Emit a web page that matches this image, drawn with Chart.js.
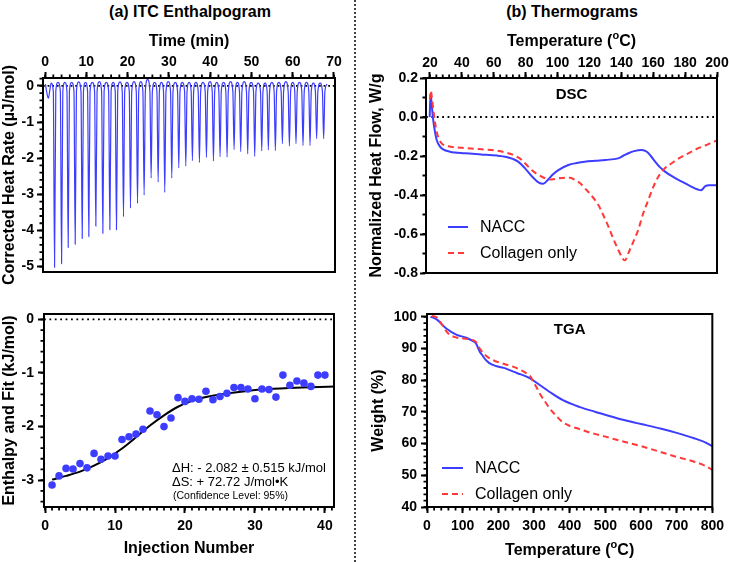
<!DOCTYPE html>
<html><head><meta charset="utf-8">
<script src="https://cdn.jsdelivr.net/npm/chart.js@4/dist/chart.umd.min.js"></script>
<style>
html,body{margin:0;padding:0;background:#fff;}
#wrap{position:relative;width:729px;height:562px;overflow:hidden;font-family:"Liberation Sans",Arial,sans-serif;background:#fff;}
canvas{position:absolute;left:0;top:0;}
.ttl{position:absolute;font-weight:bold;font-size:16px;white-space:nowrap;transform:translate(-50%,-50%);color:#000;}
#divider{position:absolute;left:354px;top:0;height:562px;border-left:2px dotted #444;}
</style></head>
<body><div id="wrap">
<div class="ttl" style="left:190px;top:12px">(a) ITC Enthalpogram</div>
<div class="ttl" style="left:572px;top:12px">(b) Thermograms</div>
<div id="divider"></div>
<canvas id="c1" width="729" height="562"></canvas>
<canvas id="c2" width="729" height="562"></canvas>
<canvas id="c3" width="729" height="562"></canvas>
<canvas id="c4" width="729" height="562"></canvas>
</div>
<script>
// ---------- (a) ITC raw heat-rate trace ----------
const itcInitTime = [0.1, 0.45, 0.8, 1.15];
const itcInitRate = [0.05, -0.2, -0.34, -0.12];
const injTime = [2.3, 4.0, 5.6, 7.3, 9.0, 10.6, 12.3, 14.0, 15.7, 17.3,
                 19.0, 20.7, 22.4, 24.0, 25.7, 27.4, 29.0, 30.7, 32.4, 34.1,
                 35.7, 37.4, 39.1, 40.8, 42.4, 44.1, 45.8, 47.4, 49.1, 50.8,
                 52.5, 54.1, 55.8, 57.5, 59.2, 60.8, 62.5, 64.2, 65.8, 67.5];
const peakRate = [-5.02, -4.92, -4.47, -4.38, -4.22, -4.17, -3.88, -4.08, -3.98, -3.98,
                  -3.62, -3.38, -3.25, -3.02, -2.55, -2.66, -2.95, -2.55, -2.27, -2.22,
                  -2.07, -2.12, -1.98, -2.08, -1.96, -1.97, -1.76, -1.82, -1.88, -1.95,
                  -1.8, -1.77, -1.79, -1.6, -1.66, -1.6, -1.65, -1.65, -1.46, -1.46];
const archRate = [0.08, 0.1, 0.1, 0.1, 0.11, 0.1, 0.1, 0.12, 0.1, 0.1,
                  0.11, 0.1, 0.12, 0.12, 0.18, 0.1, 0.1, 0.12, 0.1, 0.1,
                  0.1, 0.1, 0.1, 0.12, 0.1, 0.1, 0.12, 0.1, 0.12, 0.1,
                  0.08, 0.08, 0.1, 0.1, 0.12, 0.1, 0.1, 0.1, 0.08, 0.08, 0.05];
const timeTicks = [0, 10, 20, 30, 40, 50, 60, 70];
const heatRateTicks = [-5, -4, -3, -2, -1, 0];

// ---------- (a) integrated enthalpy + fit ----------
const injNumber = [1,2,3,4,5,6,7,8,9,10,11,12,13,14,15,16,17,18,19,20,
                   21,22,23,24,25,26,27,28,29,30,31,32,33,34,35,36,37,38,39,40];
const enthalpy = [-3.09, -2.92, -2.78, -2.79, -2.69, -2.77, -2.50, -2.61, -2.55, -2.55,
                  -2.24, -2.19, -2.14, -2.05, -1.71, -1.78, -2.00, -1.84, -1.46, -1.53,
                  -1.48, -1.49, -1.34, -1.50, -1.44, -1.38, -1.27, -1.27, -1.30, -1.48,
                  -1.30, -1.31, -1.45, -1.04, -1.23, -1.15, -1.19, -1.25, -1.04, -1.04];
const fitInj = [1, 3, 5, 7, 9, 11, 13, 15, 17, 19, 21, 23, 25, 28, 31, 35, 41.3];
const fitEnthalpy = [-2.99, -2.92, -2.84, -2.73, -2.59, -2.41, -2.20, -1.98, -1.79, -1.63,
                     -1.52, -1.45, -1.40, -1.35, -1.31, -1.28, -1.25];
const injTicks = [0, 10, 20, 30, 40];
const enthalpyTicks = [-3, -2, -1, 0];

// ---------- (b) DSC ----------
const dscNaccT = [19.8, 20.4, 21.0, 22.1, 23.0, 24.2, 26.3, 28, 32.5, 42, 52, 62, 68, 72, 75.5, 79.5,
                  84, 88, 91, 94, 97, 100.5, 106.8, 112, 117, 124, 130, 138, 141, 144.4, 148, 152.8,
                  156, 158.5, 161.2, 164, 167.4, 172, 178, 183, 188, 190, 191.2, 192.5, 195, 200];
const dscNaccHF = [0.0, 0.12, 0.07, -0.02, -0.07, -0.118, -0.152, -0.165, -0.178, -0.186, -0.192, -0.198, -0.205, -0.215, -0.23, -0.262,
                   -0.305, -0.335, -0.342, -0.322, -0.295, -0.272, -0.246, -0.236, -0.229, -0.224, -0.22, -0.212, -0.2, -0.186, -0.175, -0.169,
                   -0.178, -0.2, -0.229, -0.256, -0.28, -0.305, -0.332, -0.353, -0.372, -0.376, -0.368, -0.356, -0.35, -0.35];
const dscCollT = [20.0, 20.5, 21.2, 22.1, 23, 24.2, 25.5, 27.3, 31.5, 40, 52.4, 62, 69.1, 73, 77.5, 80.5,
                  83.8, 87, 90.1, 93, 96.3, 100, 104.7, 108, 111, 114, 117.2, 121, 125.6, 128.5, 131.9, 135,
                  138.1, 140.5, 141.9, 143, 144.4, 147.5, 150.6, 153.5, 156.9, 160, 163.2, 167, 171.6, 176,
                  180, 184, 188.3, 193, 197.7, 200];
const dscCollHF = [0.09, 0.135, 0.1, 0.036, -0.02, -0.075, -0.11, -0.135, -0.15, -0.158, -0.166, -0.173, -0.186, -0.198, -0.22, -0.245,
                   -0.272, -0.292, -0.306, -0.316, -0.32, -0.315, -0.311, -0.312, -0.323, -0.338, -0.366, -0.4, -0.451, -0.5, -0.562, -0.625,
                   -0.682, -0.72, -0.735, -0.728, -0.699, -0.64, -0.579, -0.5, -0.426, -0.36, -0.306, -0.265, -0.237, -0.212,
                   -0.195, -0.178, -0.16, -0.145, -0.127, -0.12];
const dscTempTicks = [20, 40, 60, 80, 100, 120, 140, 160, 180, 200];
const heatFlowTicks = [0.2, 0.0, -0.2, -0.4, -0.6, -0.8];

// ---------- (b) TGA ----------
const tgaNaccT = [10, 27, 54, 82, 110, 128, 137, 142, 148, 155, 164, 174, 190, 215, 252, 289, 316, 344, 381,
                  427, 473, 546, 600, 657, 700, 749, 780, 800];
const tgaNaccW = [100.1, 99.2, 96.3, 94.4, 93.4, 92.4, 91.7, 90.5, 89.0, 87.9, 86.5, 85.5, 84.6, 83.9, 82.3, 80.6, 78.5, 76.3, 73.7,
                  71.6, 70.0, 67.6, 66.2, 64.7, 63.4, 61.7, 60.4, 59.2];
const tgaCollT = [14, 27, 40, 59, 82, 119, 137, 151, 169, 192, 215, 243, 265, 280, 290, 298, 307, 316, 330, 344,
                  362, 381, 400, 427, 454, 473, 500, 546, 600, 657, 700, 749, 780, 800];
const tgaCollW = [100.3, 99.9, 97.9, 94.8, 93.5, 92.9, 92.1, 89.5, 87.4, 86.0, 85.2, 84.2, 83.1, 82.1, 81.2, 79.5, 77.8, 75.8, 73.4, 71.1,
                  68.8, 66.7, 65.6, 64.6, 63.6, 63.0, 62.2, 60.8, 59.2, 57.3, 55.8, 54.3, 53.0, 51.7];
const tgaTempTicks = [0, 100, 200, 300, 400, 500, 600, 700, 800];
const weightTicks = [40, 50, 60, 70, 80, 90, 100];

// ---------- helpers ----------
const FAM = '"Liberation Sans", Arial, sans-serif';
Chart.defaults.font.family = FAM;
Chart.defaults.color = '#000';
const BLUE = '#3d3dff', RED = '#ff3838';
const tickFont = {size: 14, weight: 'bold'};
const titleFont = {size: 16, weight: 'bold'};
const xy = (xs, ys) => xs.map((x, i) => ({x, y: ys[i]}));

function axis(pos, min, max, majors, fmt, pad, size, title) {
  return {
    type: 'linear', position: pos, min, max,
    afterBuildTicks: s => { s.ticks = majors.map(v => ({value: v})); },
    ticks: {font: tickFont, color: '#000', padding: pad, maxRotation: 0, autoSkip: false, callback: fmt},
    grid: {display: true, drawOnChartArea: false, drawTicks: true, tickLength: 6, tickWidth: 2, tickColor: '#000'},
    border: {display: true, color: '#000', width: 2},
    title: {display: !!title, text: title || '', font: titleFont, color: '#000', padding: 0},
    afterFit: s => { if (s.isHorizontal()) s.height = size; else s.width = size; }
  };
}
const intFmt = v => String(Math.round(v));
const dec1 = v => Number(v).toFixed(1);

const decor = {
  id: 'decor',
  afterDraw(chart, args, o) {
    const {ctx, chartArea: a, scales} = chart;
    ctx.save();
    ctx.strokeStyle = '#000';
    ctx.lineWidth = 2;
    ctx.strokeRect(a.left, a.top, a.right - a.left, a.bottom - a.top);
    ctx.lineWidth = 1.8;
    ctx.beginPath();
    for (const id of ['x', 'y']) {
      const s = scales[id], m = o.minor && o.minor[id];
      if (!m) continue;
      const k0 = Math.ceil(s.min / m - 1e-6), k1 = Math.floor(s.max / m + 1e-6);
      for (let k = k0; k <= k1; k++) {
        const p = s.getPixelForValue(k * m);
        if (s.position === 'top') { ctx.moveTo(p, a.top); ctx.lineTo(p, a.top - 3.5); }
        else if (s.position === 'bottom') { ctx.moveTo(p, a.bottom); ctx.lineTo(p, a.bottom + 3.5); }
        else { ctx.moveTo(a.left, p); ctx.lineTo(a.left - 3.5, p); }
      }
    }
    ctx.stroke();
    ctx.fillStyle = '#000';
    ctx.textBaseline = 'middle';
    (o.texts || []).forEach(t => {
      ctx.font = t.font;
      ctx.textAlign = t.align || 'left';
      const x = t.center ? (a.left + a.right) / 2 + (t.dx || 0) : a.left + t.dx;
      ctx.fillText(t.text, x, a.top + t.dy);
    });
    if (o.supTitle) {
      // axis title with a superscript part, e.g. Temperature (oC)
      const T = o.supTitle;
      const big = 'bold 16px ' + FAM, small = 'bold 11px ' + FAM;
      const parts = [[T.pre, big, 0], [T.sup, small, -6], [T.post, big, 0]];
      let w = 0;
      parts.forEach(p => { ctx.font = p[1]; w += ctx.measureText(p[0]).width; });
      let x = (a.left + a.right) / 2 - w / 2;
      const y = T.pos === 'top' ? a.top - T.off : a.bottom + T.off;
      ctx.textAlign = 'left';
      parts.forEach(p => { ctx.font = p[1]; ctx.fillText(p[0], x, y + p[2]); x += ctx.measureText(p[0]).width; });
    }
    (o.legend || []).forEach(L => {
      const ds = chart.data.datasets[L.ds];
      const y = a.top + L.dy;
      ctx.save();
      ctx.strokeStyle = ds.borderColor;
      ctx.lineWidth = ds.borderWidth;
      ctx.setLineDash(ds.borderDash || []);
      ctx.beginPath();
      ctx.moveTo(a.left + L.x0, y); ctx.lineTo(a.left + L.x1, y);
      ctx.stroke();
      ctx.restore();
      ctx.font = '16px ' + FAM;
      ctx.textAlign = 'left';
      ctx.fillText(ds.label, a.left + L.tx, y + 1);
    });
    ctx.restore();
  }
};

const base = {responsive: false, maintainAspectRatio: false, animation: false, devicePixelRatio: 1,
              plugins: {legend: {display: false}, tooltip: {enabled: false}}};

// ---------- itc raw trace points (built from arrays) ----------
const itcTrace = xy(itcInitTime, itcInitRate);
injTime.forEach((t, i) => {
  const before = i === 0 ? t - 0.84 : (injTime[i - 1] + t) / 2;
  itcTrace.push({x: before, y: archRate[i]});
  itcTrace.push({x: t - 0.3, y: -0.15});
  itcTrace.push({x: t, y: peakRate[i]});
  itcTrace.push({x: t + 0.3, y: -0.15});
});
itcTrace.push({x: injTime[injTime.length - 1] + 0.84, y: archRate[archRate.length - 1]});

// Chart 1: raw ITC
new Chart(document.getElementById('c1'), {
  type: 'line',
  data: {datasets: [
    {label: 'Heat rate', data: itcTrace, borderColor: BLUE, borderWidth: 1.2, pointRadius: 0,
     cubicInterpolationMode: 'monotone', order: 1},
    {label: 'zero', data: [{x: -0.5, y: 0}, {x: 70.25, y: 0}], borderColor: '#000', borderWidth: 1.8,
     borderDash: [1.8, 2.8], pointRadius: 0, order: 2}
  ]},
  options: Object.assign({}, base, {
    layout: {padding: {left: 0, top: 32, right: 394, bottom: 290}},
    scales: {
      x: axis('top', -0.5, 70.25, timeTicks, intFmt, 1, 46, 'Time (min)'),
      y: axis('left', -5.15, 0.22, heatRateTicks, intFmt, 3, 43, 'Corrected Heat Rate (µJ/mol)')
    },
    plugins: Object.assign({}, base.plugins, {decor: {minor: {x: 2, y: 0.2}}})
  }),
  plugins: [decor]
});

// Chart 2: enthalpogram
new Chart(document.getElementById('c2'), {
  type: 'line',
  data: {datasets: [
    {label: 'Enthalpy', data: xy(injNumber, enthalpy), showLine: false, pointRadius: 3.8,
     pointBackgroundColor: BLUE, pointBorderColor: BLUE, pointBorderWidth: 0, order: 1},
    {label: 'Fit', data: xy(fitInj, fitEnthalpy), borderColor: '#000', borderWidth: 2, pointRadius: 0,
     cubicInterpolationMode: 'monotone', order: 2},
    {label: 'zero', data: [{x: -0.15, y: 0}, {x: 41.3, y: 0}], borderColor: '#000', borderWidth: 1.8,
     borderDash: [1.8, 3.6], pointRadius: 0, order: 3}
  ]},
  options: Object.assign({}, base, {
    layout: {padding: {left: 0, top: 314, right: 395, bottom: 4}},
    scales: {
      x: axis('bottom', -0.15, 41.3, injTicks, intFmt, 5, 51, 'Injection Number'),
      y: axis('left', -3.5, 0.1, enthalpyTicks, intFmt, 4, 44, 'Enthalpy and Fit (kJ/mol)')
    },
    plugins: Object.assign({}, base.plugins, {decor: {
      minor: {x: 1, y: 0.2},
      texts: [
        {text: 'ΔH: - 2.082 ± 0.515 kJ/mol', dx: 128, dy: 154, font: '13px ' + FAM},
        {text: 'ΔS: + 72.72 J/mol•K', dx: 128, dy: 168, font: '13px ' + FAM},
        {text: '(Confidence Level: 95%)', dx: 129, dy: 182, font: '10.5px ' + FAM}
      ]}})
  }),
  plugins: [decor]
});

// Chart 3: DSC
new Chart(document.getElementById('c3'), {
  type: 'line',
  data: {datasets: [
    {label: 'NACC', data: xy(dscNaccT, dscNaccHF), borderColor: BLUE, borderWidth: 2, pointRadius: 0,
     cubicInterpolationMode: 'monotone', order: 2},
    {label: 'Collagen only', data: xy(dscCollT, dscCollHF), borderColor: RED, borderWidth: 2, borderDash: [6, 4],
     pointRadius: 0, cubicInterpolationMode: 'monotone', order: 1},
    {label: 'zero', data: [{x: 17.5, y: 0}, {x: 200, y: 0}], borderColor: '#000', borderWidth: 1.8,
     borderDash: [1.8, 3.6], pointRadius: 0, order: 3}
  ]},
  options: Object.assign({}, base, {
    layout: {padding: {left: 367, top: 32, right: 12, bottom: 289}},
    scales: {
      x: axis('top', 17.5, 200, dscTempTicks, intFmt, 0, 46, ''),
      y: axis('left', -0.8, 0.2, heatFlowTicks, dec1, 2, 59, 'Normalized Heat Flow, W/g')
    },
    plugins: Object.assign({}, base.plugins, {decor: {
      minor: {x: 4, y: 0.1},
      supTitle: {pre: 'Temperature (', sup: 'o', post: 'C)', pos: 'top', off: 36},
      texts: [{text: 'DSC', center: true, dx: 0, dy: 17, align: 'center', font: 'bold 15px ' + FAM}],
      legend: [{ds: 0, x0: 22, x1: 42, tx: 54, dy: 149}, {ds: 1, x0: 22, x1: 42, tx: 54, dy: 175}]
    }})
  }),
  plugins: [decor]
});

// Chart 4: TGA
new Chart(document.getElementById('c4'), {
  type: 'line',
  data: {datasets: [
    {label: 'NACC', data: xy(tgaNaccT, tgaNaccW), borderColor: BLUE, borderWidth: 2, pointRadius: 0,
     cubicInterpolationMode: 'monotone', order: 2},
    {label: 'Collagen only', data: xy(tgaCollT, tgaCollW), borderColor: RED, borderWidth: 2, borderDash: [6, 4],
     pointRadius: 0, cubicInterpolationMode: 'monotone', order: 1}
  ]},
  options: Object.assign({}, base, {
    layout: {padding: {left: 369, top: 314, right: 12, bottom: 1}},
    scales: {
      x: axis('bottom', 0, 800, tgaTempTicks, intFmt, 5, 54, ''),
      y: axis('left', 40, 100.9, weightTicks, intFmt, 4, 58, 'Weight (%)')
    },
    plugins: Object.assign({}, base.plugins, {decor: {
      minor: {x: 20, y: 2},
      supTitle: {pre: 'Temperature (', sup: 'o', post: 'C)', pos: 'bottom', off: 44},
      texts: [{text: 'TGA', center: true, dx: 0, dy: 16, align: 'center', font: 'bold 15px ' + FAM}],
      legend: [{ds: 0, x0: 15, x1: 36, tx: 48, dy: 154}, {ds: 1, x0: 15, x1: 36, tx: 48, dy: 180}]
    }})
  }),
  plugins: [decor]
});
</script>
</body></html>
